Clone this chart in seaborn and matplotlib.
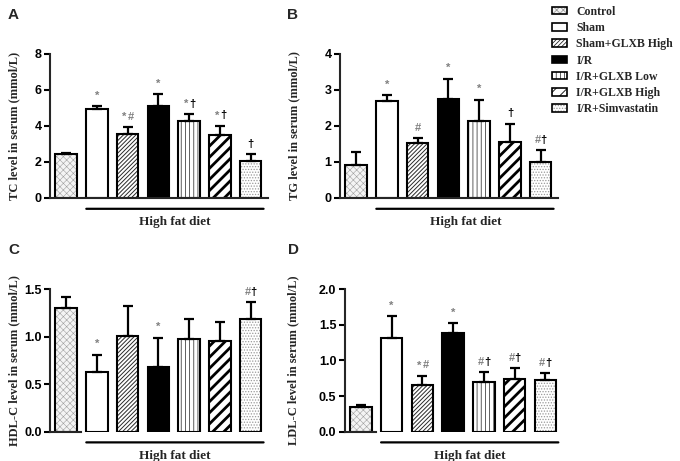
import numpy as np
import pandas as pd
import matplotlib as mpl
import matplotlib.pyplot as plt
import matplotlib.transforms as mtransforms
import seaborn as sns
from matplotlib.patches import Patch

sns.set_style("ticks")
mpl.rcParams["font.family"] = ["Liberation Sans", "DejaVu Sans"]
mpl.rcParams["hatch.linewidth"] = 0.6

groups = ["Control", "Sham", "Sham+GLXB High", "I/R", "I/R+GLXB Low", "I/R+GLXB High", "I/R+Simvastatin"]

tc_mean = [2.42, 4.94, 3.56, 5.13, 4.26, 3.48, 2.04]
tc_sd = [0.09, 0.16, 0.37, 0.65, 0.39, 0.52, 0.40]
tc_marks = ["", "*", "*#", "*", "*†", "*†", "†"]

tg_mean = [0.91, 2.69, 1.54, 2.75, 2.13, 1.56, 1.01]
tg_sd = [0.36, 0.17, 0.12, 0.56, 0.60, 0.50, 0.32]
tg_marks = ["", "*", "#", "*", "*", "†", "#†"]

hdl_mean = [1.30, 0.63, 1.01, 0.68, 0.97, 0.95, 1.18]
hdl_sd = [0.12, 0.18, 0.31, 0.31, 0.21, 0.20, 0.18]
hdl_marks = ["", "*", "", "*", "", "", "#†"]

ldl_mean = [0.34, 1.31, 0.65, 1.39, 0.69, 0.74, 0.73]
ldl_sd = [0.03, 0.31, 0.13, 0.13, 0.14, 0.15, 0.09]
ldl_marks = ["", "*", "*#", "*", "#†", "#†", "#†"]

# look of each group: face, hatch, hatch colour, hatch width
faces = ["#f4f4f4", "white", "white", "black", "white", "white", "white"]
hatches = ["xxxxx", "", "////////", "", "||||", "///", "......"]
hatch_cols = ["#a0a0a0", "black", "#2a2a2a", "black", "#444444", "black", "#9a9a9a"]
hatch_lws = [0.4, 0.6, 0.7, 0.6, 0.6, 2.0, 0.6]

serif = ["Liberation Serif", "DejaVu Serif"]


def style_patch(p, i):
    p.set_facecolor(faces[i])
    p.set_edgecolor("black")
    p.set_hatch(hatches[i])
    if hasattr(p, "set_hatchcolor"):
        p.set_hatchcolor(hatch_cols[i])
    else:
        p._hatch_color = mpl.colors.to_rgba(hatch_cols[i])
    if hasattr(p, "set_hatch_linewidth"):
        p.set_hatch_linewidth(hatch_lws[i])


def panel(ax, letter, letter_x, label_x, mean, sd, marks, ylabel, ymax, yticks, fmt, full_spine):
    df = pd.DataFrame({"group": groups, "value": mean})
    sns.barplot(data=df, x="group", y="value", hue="group", order=groups, hue_order=groups,
                palette=dict(zip(groups, faces)), width=0.7, linewidth=1.5,
                edgecolor="black", legend=False, ax=ax)
    for i, p in enumerate(ax.patches):
        style_patch(p, i)
    x = np.arange(len(groups))
    ax.errorbar(x, mean, yerr=[np.zeros(len(sd)), sd], fmt="none", ecolor="black",
                elinewidth=1.6, capsize=3.5, capthick=1.6, zorder=5)
    for i, m in enumerate(marks):
        top = mean[i] + sd[i]
        n = len(m)
        for k, ch in enumerate(m):
            dx = (k - (n - 1) / 2) * 4.5
            col = "black" if ch == "†" else "#808080"
            ax.annotate(ch, (x[i], top), xytext=(dx, 4), textcoords="offset points",
                        ha="center", va="bottom", fontsize=8, color=col,
                        fontweight="bold", family=["Liberation Sans", "DejaVu Sans"])
    ax.set_xlim(-0.52, 6.55)
    ax.set_ylim(0, ymax)
    ax.set_yticks(yticks)
    ax.set_yticklabels([fmt.format(v) for v in yticks], fontsize=9, fontweight="bold")
    ax.set_xticks([])
    ax.set_xlabel("")
    ax.set_ylabel(ylabel, fontsize=9, fontweight="bold", family=serif)
    ax.yaxis.set_label_coords(label_x / 680, 0.5,
                              transform=mtransforms.blended_transform_factory(fig.transFigure, ax.transAxes))
    sns.despine(ax=ax)
    ax.spines["left"].set_linewidth(1.5)
    ax.spines["bottom"].set_linewidth(1.5)
    if not full_spine:
        ax.spines["bottom"].set_bounds(-0.52, 0.5)
    ax.tick_params(axis="y", width=1.5, length=4, pad=2, colors="black")
    # high fat diet bracket
    ax.annotate("", xy=(0.66, -0.075), xytext=(6.42, -0.075),
                xycoords=("data", "axes fraction"), textcoords=("data", "axes fraction"),
                arrowprops=dict(arrowstyle="-", lw=1.6, color="black", shrinkA=0, shrinkB=0),
                annotation_clip=False)
    ax.text(3.55, -0.125, "High fat diet", transform=ax.get_xaxis_transform(),
            ha="center", va="top", fontsize=9.5, fontweight="bold", family=serif)
    fig.text(letter_x / 680, 1.27, letter,
             transform=mtransforms.blended_transform_factory(fig.transFigure, ax.transAxes),
             fontsize=11, fontweight="bold", ha="left", va="center")


fig = plt.figure(figsize=(6.8, 4.61), dpi=100)
axA = fig.add_axes([0.0735, 0.5705, 0.32, 0.3124])
axB = fig.add_axes([0.500, 0.5705, 0.32, 0.3124])
axC = fig.add_axes([0.0735, 0.0636, 0.32, 0.3095])
axD = fig.add_axes([0.507, 0.0636, 0.32, 0.3095])

panel(axA, "A", 8, 20, tc_mean, tc_sd, tc_marks, "TC level in serum (mmol/L)", 8, [0, 2, 4, 6, 8], "{:g}", True)
panel(axB, "B", 287, 300, tg_mean, tg_sd, tg_marks, "TG level in serum (mmol/L)", 4, [0, 1, 2, 3, 4], "{:g}", True)
panel(axC, "C", 8, 20, hdl_mean, hdl_sd, hdl_marks, "HDL-C level in serum (mmol/L)", 1.5, [0, 0.5, 1.0, 1.5], "{:.1f}", False)
panel(axD, "D", 288, 299, ldl_mean, ldl_sd, ldl_marks, "LDL-C level in serum (mmol/L)", 2.0, [0, 0.5, 1.0, 1.5, 2.0], "{:.1f}", False)

handles = []
for i, g in enumerate(groups):
    h = Patch(facecolor=faces[i], edgecolor="black", linewidth=1.2, label=g)
    style_patch(h, i)
    handles.append(h)
fig.legend(handles=handles, loc="upper left", bbox_to_anchor=(0.803, 1.0), frameon=False,
           prop={"family": serif, "weight": "bold", "size": 8.5}, handlelength=1.3,
           handleheight=0.6, handletextpad=0.75, labelspacing=0.36, borderaxespad=0.1)

fig.savefig("out.png", dpi=100)
